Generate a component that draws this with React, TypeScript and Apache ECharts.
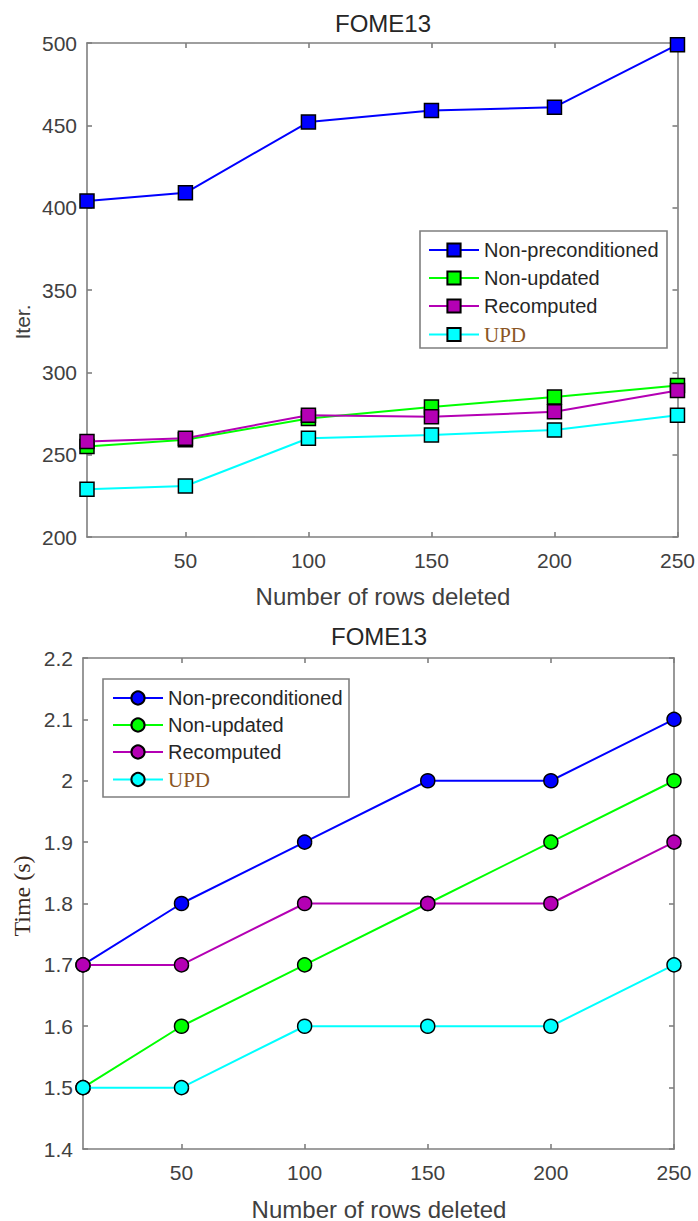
import React, { useEffect, useRef } from "react";
import * as echarts from "echarts";

// Shared x values and tick marks
const rowsDeleted = [10, 50, 100, 150, 200, 250];
const xTickValues = [50, 100, 150, 200, 250];
const seriesNames = ["Non-preconditioned", "Non-updated", "Recomputed", "UPD"];
const seriesColors = ["#0000ff", "#00ff00", "#b400b4", "#00ffff"];

// Iteration counts
const iterNonPre = [404, 409, 452, 459, 461, 499];
const iterNonUpd = [255, 259, 272, 279, 285, 292];
const iterRecomp = [258, 260, 274, 273, 276, 289];
const iterUpd = [229, 231, 260, 262, 265, 274];

// Run times in seconds
const timeNonPre = [1.7, 1.8, 1.9, 2.0, 2.0, 2.1];
const timeNonUpd = [1.5, 1.6, 1.7, 1.8, 1.9, 2.0];
const timeRecomp = [1.7, 1.7, 1.8, 1.8, 1.8, 1.9];
const timeUpd = [1.5, 1.5, 1.6, 1.6, 1.6, 1.7];

const SANS = "'Liberation Sans', Arial, sans-serif";
const SERIF = "'Liberation Serif', 'Times New Roman', serif";
const AXIS_GRAY = "#7f7f7f";
const LABEL_GRAY = "#404040";
const TEXT_DARK = "#262626";

type PanelCfg = {
  grid: { left: number; top: number; width: number; height: number };
  yMin: number;
  yMax: number;
  yInterval: number;
  values: number[][];
  symbol: string;
  title: { x: number; y: number };
  xName: { x: number; y: number };
  yName: { text: string; x: number; y: number; font: string; size: number; color: string };
  legendBox: { x: number; y: number; w: number; h: number };
  legendPos: { left: number; top: number; gap: number };
};

function buildOption(cfg: PanelCfg): echarts.EChartsOption {
  const lineStyle = { color: AXIS_GRAY, width: 1.6 };
  const tickCommon = { show: true, inside: true, length: 5, lineStyle };
  const labelCommon = { fontSize: 21, color: LABEL_GRAY, fontFamily: SANS };

  const xAxisBase = {
    type: "value" as const,
    min: 10,
    max: 250,
    splitLine: { show: false },
    axisLine: { show: true, onZero: false, lineStyle },
  };
  const yAxisBase = {
    type: "value" as const,
    min: cfg.yMin,
    max: cfg.yMax,
    interval: cfg.yInterval,
    splitLine: { show: false },
    axisLine: { show: true, onZero: false, lineStyle },
  };

  return {
    animation: false,
    backgroundColor: "#ffffff",
    grid: { ...cfg.grid, containLabel: false },
    xAxis: [
      {
        ...xAxisBase,
        position: "bottom",
        axisTick: { ...tickCommon, customValues: xTickValues },
        axisLabel: { ...labelCommon, margin: 13, customValues: xTickValues },
      },
      {
        ...xAxisBase,
        position: "top",
        axisTick: { ...tickCommon, customValues: xTickValues },
        axisLabel: { show: false },
      },
    ],
    yAxis: [
      {
        ...yAxisBase,
        position: "left",
        axisTick: tickCommon,
        axisLabel: { ...labelCommon, margin: 10 },
      },
      {
        ...yAxisBase,
        position: "right",
        axisTick: tickCommon,
        axisLabel: { show: false },
      },
    ],
    legend: {
      orient: "vertical",
      left: cfg.legendPos.left,
      top: cfg.legendPos.top,
      padding: 0,
      itemGap: cfg.legendPos.gap,
      itemWidth: 50,
      itemHeight: 16.5,
      selectedMode: false,
      data: seriesNames,
      formatter: (name: string) => (name === "UPD" ? "{serif|UPD}" : name),
      textStyle: {
        fontSize: 20,
        color: TEXT_DARK,
        fontFamily: SANS,
        rich: {
          serif: { fontFamily: SERIF, fontSize: 21, color: "#8a5524" },
        },
      },
    },
    series: seriesNames.map((name, i) => ({
      name,
      type: "line",
      xAxisIndex: 0,
      yAxisIndex: 0,
      data: rowsDeleted.map((x, j) => [x, cfg.values[i][j]]),
      symbol: cfg.symbol,
      symbolSize: 14,
      showAllSymbol: true,
      clip: false,
      z: 2 + i,
      lineStyle: { color: seriesColors[i], width: 2 },
      itemStyle: { color: seriesColors[i], borderColor: "#000000", borderWidth: 1.5 },
      emphasis: { disabled: true },
    })),
    graphic: [
      {
        type: "rect",
        shape: { x: cfg.legendBox.x, y: cfg.legendBox.y, width: cfg.legendBox.w, height: cfg.legendBox.h },
        style: { fill: "#ffffff", stroke: AXIS_GRAY, lineWidth: 1.6 },
        z: 1,
        silent: true,
      },
      {
        type: "text",
        x: cfg.title.x,
        y: cfg.title.y,
        style: {
          text: "FOME13",
          fontSize: 24,
          fontFamily: SANS,
          fill: TEXT_DARK,
          textAlign: "center",
          textVerticalAlign: "middle",
          align: "center",
          verticalAlign: "middle",
        } as any,
      },
      {
        type: "text",
        x: cfg.xName.x,
        y: cfg.xName.y,
        style: {
          text: "Number of rows deleted",
          fontSize: 24,
          fontFamily: SANS,
          fill: LABEL_GRAY,
          textAlign: "center",
          textVerticalAlign: "middle",
          align: "center",
          verticalAlign: "middle",
        } as any,
      },
      {
        type: "text",
        x: cfg.yName.x,
        y: cfg.yName.y,
        rotation: Math.PI / 2,
        style: {
          text: cfg.yName.text,
          fontSize: cfg.yName.size,
          fontFamily: cfg.yName.font,
          fill: cfg.yName.color,
          textAlign: "center",
          textVerticalAlign: "middle",
          align: "center",
          verticalAlign: "middle",
        } as any,
      },
    ],
  } as echarts.EChartsOption;
}

const iterPanel: PanelCfg = {
  grid: { left: 87, top: 43, width: 592, height: 494 },
  yMin: 200,
  yMax: 500,
  yInterval: 50,
  values: [iterNonPre, iterNonUpd, iterRecomp, iterUpd],
  symbol: "rect",
  title: { x: 383, y: 23 },
  xName: { x: 383, y: 596 },
  yName: { text: "Iter.", x: 22, y: 322, font: SANS, size: 21, color: LABEL_GRAY },
  legendBox: { x: 420, y: 231, w: 247, h: 117 },
  legendPos: { left: 428, top: 240, gap: 8 },
};

const timePanel: PanelCfg = {
  grid: { left: 83, top: 48, width: 591, height: 491 },
  yMin: 1.4,
  yMax: 2.2,
  yInterval: 0.1,
  values: [timeNonPre, timeNonUpd, timeRecomp, timeUpd],
  symbol: "circle",
  title: { x: 379, y: 26 },
  xName: { x: 379, y: 599 },
  yName: { text: "Time (s)", x: 22, y: 286, font: SERIF, size: 24, color: "#3a2a1e" },
  legendBox: { x: 103, y: 69, w: 246, h: 118 },
  legendPos: { left: 112, top: 78, gap: 7 },
};

function Panel({ cfg, top, height }: { cfg: PanelCfg; top: number; height: number }) {
  const ref = useRef<HTMLDivElement>(null);
  useEffect(() => {
    if (!ref.current) return;
    const chart = echarts.init(ref.current, undefined, { renderer: "svg" });
    chart.setOption(buildOption(cfg));
    return () => chart.dispose();
  }, [cfg]);
  return (
    <div
      ref={ref}
      style={{ position: "absolute", left: 0, top, width: 698, height }}
    />
  );
}

export default function App() {
  useEffect(() => {
    document.body.style.margin = "0";
  }, []);
  return (
    <div style={{ position: "relative", width: 698, height: 1221, background: "#ffffff", overflow: "hidden" }}>
      <Panel cfg={iterPanel} top={0} height={610} />
      <Panel cfg={timePanel} top={610} height={611} />
    </div>
  );
}
